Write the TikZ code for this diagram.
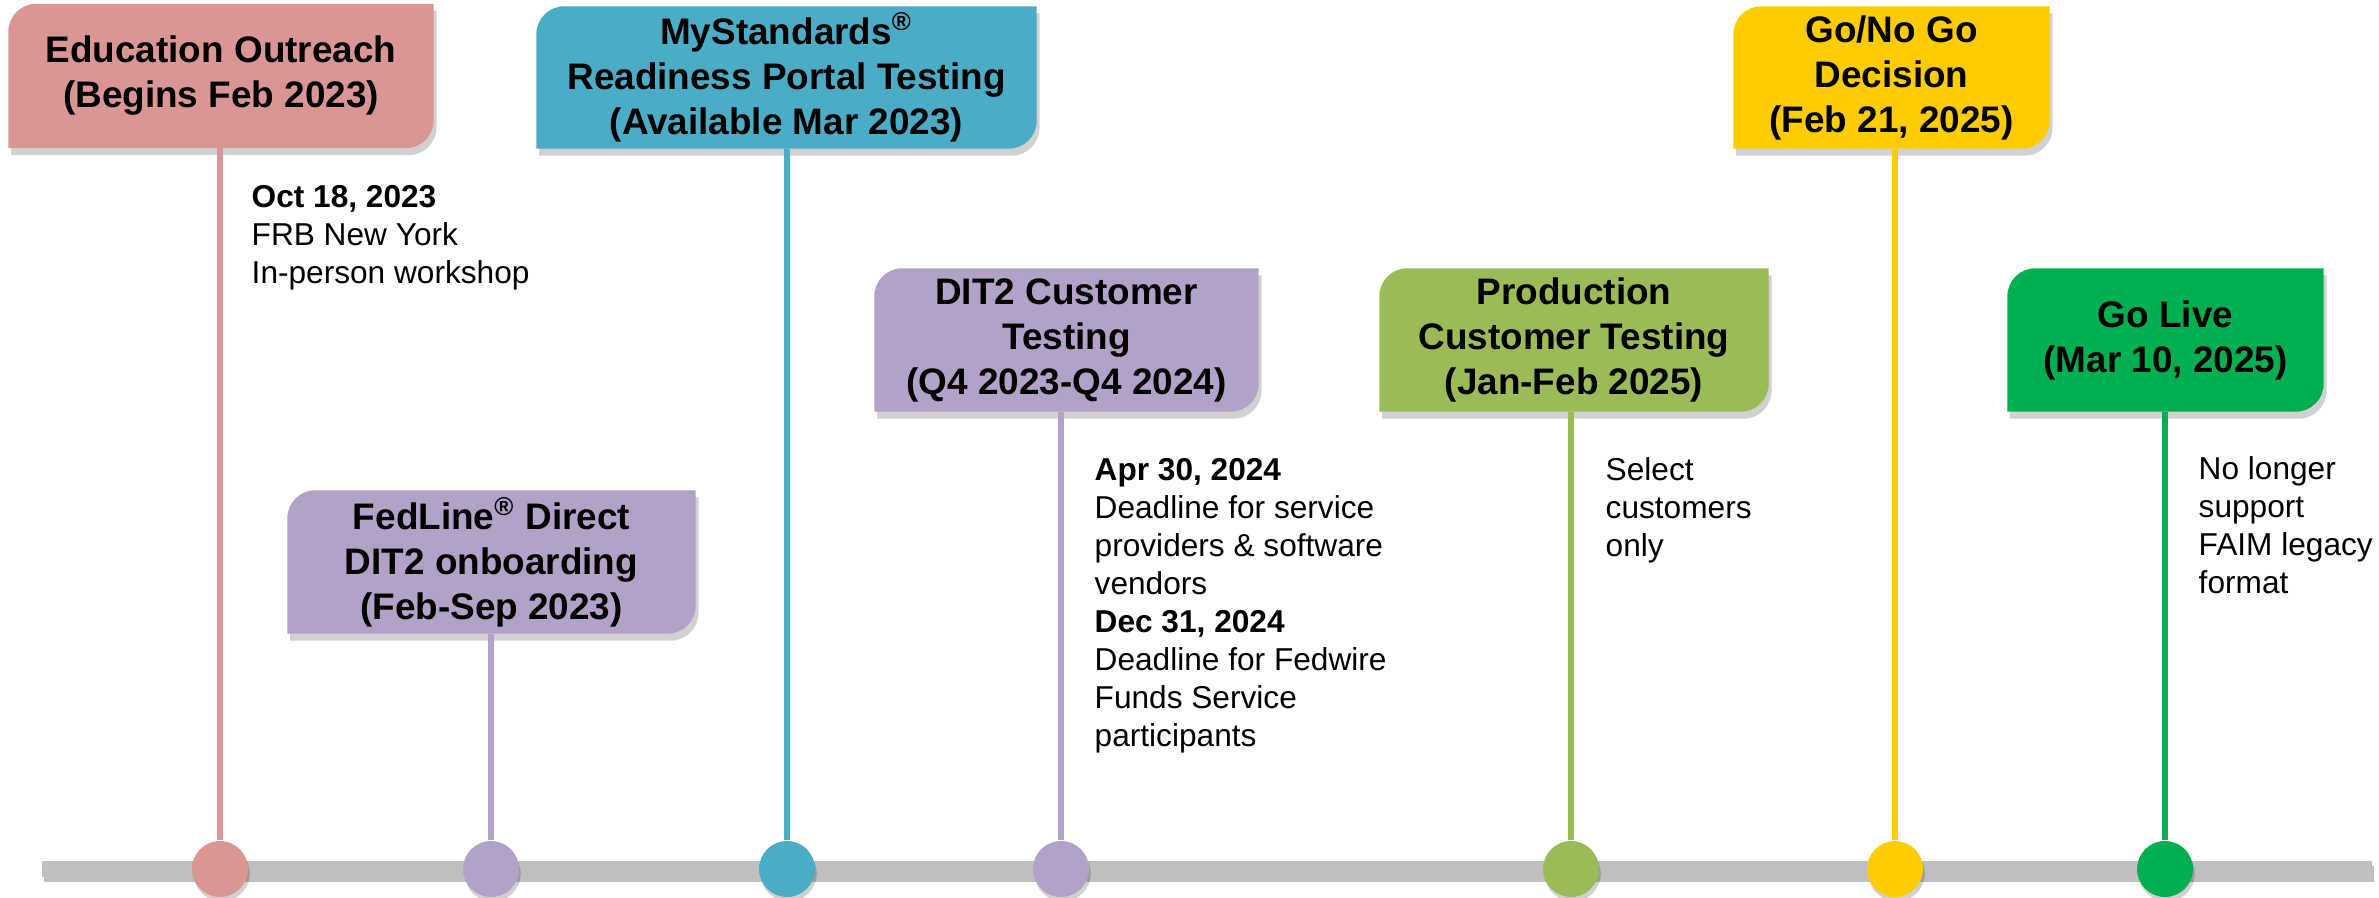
\documentclass[tikz,border=0pt]{standalone}
\usepackage{fontspec}
\setmainfont{Liberation Sans}
\usepackage{xcolor}
\usepackage{tikz}
\definecolor{rosy}{HTML}{D99694}
\definecolor{aqua}{HTML}{4BACC6}
\definecolor{lilac}{HTML}{B2A2C7}
\definecolor{moss}{HTML}{9BBB59}
\definecolor{amber}{HTML}{FFCC00}
\definecolor{leaf}{HTML}{00B050}
\definecolor{rail}{HTML}{BFBFBF}
\tikzset{
  frame/.style={inner sep=0pt},
  box/.style={inner sep=0pt, align=center, text=black, font=\fontsize{10.5}{12.8}\selectfont\bfseries},
  note/.style={inner sep=0pt, anchor=north west, align=left, text=black, font=\fontsize{9}{10.8}\selectfont},
  dot/.style={circle, minimum size=5.6mm, inner sep=0pt, preaction={fill=black, opacity=0.18, transform canvas={shift={(0.5pt,-1.3pt)}}}},
  stem/.style={line width=1.7pt},
  track/.style={draw=rail, line width=4.5pt, preaction={draw=black!25, line width=4.5pt, transform canvas={shift={(0.6pt,-1.4pt)}}}},
  card/.style={preaction={fill=black, opacity=0.18, transform canvas={shift={(0.8pt,-2pt)}}}},
}

\begin{document}
\begin{tikzpicture}
  \def\rr{0.28cm}
  \useasboundingbox (0,0) rectangle (23.79,8.98);
  % milestone frames
  \node[frame, minimum width=4.24cm, minimum height=1.43cm] (b1) at (2.21,8.22) {};
  \node[frame, minimum width=4.99cm, minimum height=1.41cm] (b2) at (7.865,8.205) {};
  \node[frame, minimum width=4.07cm, minimum height=1.42cm] (b3) at (4.915,3.36) {};
  \node[frame, minimum width=3.83cm, minimum height=1.42cm] (b4) at (10.665,5.58) {};
  \node[frame, minimum width=3.88cm, minimum height=1.42cm] (b5) at (15.74,5.58) {};
  \node[frame, minimum width=3.15cm, minimum height=1.41cm] (b6) at (18.915,8.205) {};
  \node[frame, minimum width=3.15cm, minimum height=1.42cm] (b7) at (21.655,5.58) {};
  \foreach \N/\C in {b1/rosy,b2/aqua,b3/lilac,b4/lilac,b5/moss,b6/amber,b7/leaf}
    \fill[card, fill=\C] (\N.south west) -- ([yshift=-\rr]\N.north west)
      arc[start angle=180, end angle=90, radius=\rr] -- (\N.north east)
      -- ([yshift=\rr]\N.south east) arc[start angle=0, end angle=-90, radius=\rr] -- cycle;
  % milestone titles
  \node[box] (t1) at (b1) {Education Outreach\\(Begins Feb 2023)};
  \node[box] (t2) at (b2) {MyStandards\textsuperscript{\textregistered}\\Readiness Portal Testing\\(Available Mar 2023)};
  \node[box] (t3) at (b3) {FedLine\textsuperscript{\textregistered} Direct\\DIT2 onboarding\\(Feb-Sep 2023)};
  \node[box] (t4) at (b4) {DIT2 Customer\\Testing\\(Q4 2023-Q4 2024)};
  \node[box] (t5) at (b5) {Production\\Customer Testing\\(Jan-Feb 2025)};
  \node[box] (t6) at (b6) {Go/No Go\\Decision\\(Feb 21, 2025)};
  \node[box] (t7) at (b7) {Go Live\\(Mar 10, 2025)};
  % timeline
  \coordinate (L) at (0.42,0.29);
  \coordinate (R) at (23.72,0.29);
  \draw[track] (L) -- (R);
  \foreach \i/\x/\C in {1/2.20/rosy,2/4.91/lilac,3/7.87/aqua,4/10.61/lilac,5/15.71/moss,6/18.95/amber,7/21.65/leaf}
    \node[dot, fill=\C] (d\i) at (\x,0.29) {};
  \foreach \i/\j/\C in {1/1/rosy,3/2/lilac,2/3/aqua,4/4/lilac,5/5/moss,6/6/amber,7/7/leaf}
    \draw[stem, draw=\C] (b\i.south -| d\j) -- (d\j.north);
  % notes
  \node[note] (n1) at (2.51,7.13) {\textbf{Oct 18, 2023}\\FRB New York\\In-person workshop};
  \node[note] (n4) at (10.94,4.40) {\textbf{Apr 30, 2024}\\Deadline for service\\providers \& software\\vendors\\\textbf{Dec 31, 2024}\\Deadline for Fedwire\\Funds Service\\participants};
  \node[note] (n5) at (16.05,4.41) {Select\\customers\\only};
  \node[note] (n7) at (21.98,4.42) {No longer\\support\\FAIM legacy\\format};
\end{tikzpicture}
\end{document}
